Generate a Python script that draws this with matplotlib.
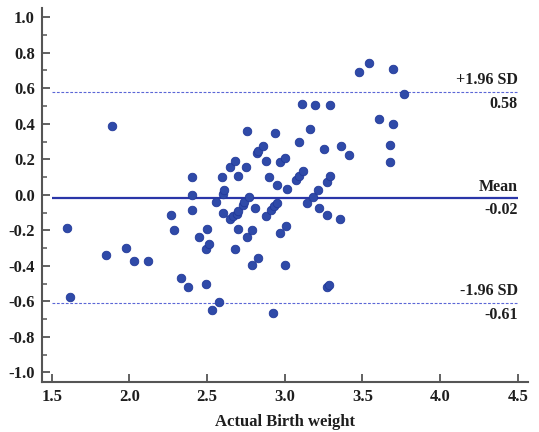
import matplotlib
matplotlib.use("Agg")
import matplotlib.pyplot as plt
from matplotlib.ticker import MultipleLocator

# ---- data ----
actual_bw = [1.60, 1.62, 1.85, 1.89, 1.98, 2.03, 2.12, 2.27, 2.29, 2.33,
             2.38, 2.40, 2.40, 2.40, 2.45, 2.49, 2.51, 2.50, 2.49, 2.535,
             2.58, 2.56, 2.595, 2.60, 2.61, 2.60, 2.65, 2.68, 2.70, 2.65,
             2.67, 2.69, 2.70, 2.73, 2.74, 2.77, 2.70, 2.68, 2.76, 2.79,
             2.81, 2.83, 2.79, 2.75, 2.76, 2.82, 2.83, 2.86, 2.88, 2.90,
             2.94, 2.88, 2.91, 2.93, 2.95, 2.95, 2.97, 3.00, 3.015, 2.97,
             3.01, 3.00, 2.925, 3.075, 3.09, 3.12, 3.09, 3.11, 3.16, 3.145,
             3.18, 3.215, 3.22, 3.195, 3.255, 3.27, 3.29, 3.29, 3.275, 3.355,
             3.36, 3.415, 3.275, 3.285, 3.48, 3.54, 3.61, 3.675, 3.675, 3.695,
             3.70, 3.77]
difference = [-0.186, -0.574, -0.34, 0.39, -0.30, -0.37, -0.37, -0.115, -0.20, -0.47,
              -0.52, 0.10, 0.00, -0.086, -0.24, -0.305, -0.276, -0.19, -0.505, -0.647,
              -0.606, -0.04, 0.103, 0.004, 0.028, -0.10, 0.159, 0.193, 0.105, -0.137,
              -0.118, -0.107, -0.094, -0.06, -0.043, -0.013, -0.19, -0.305, -0.235, -0.20,
              -0.075, -0.357, -0.394, 0.159, 0.362, 0.235, 0.248, 0.272, 0.193, 0.103,
              0.347, -0.118, -0.088, -0.062, -0.047, 0.055, 0.182, 0.206, 0.032, -0.216,
              -0.174, -0.394, -0.664, 0.084, 0.107, 0.135, 0.30, 0.512, 0.373, -0.047,
              -0.013, 0.026, -0.072, 0.503, 0.26, 0.071, 0.105, 0.503, -0.113, -0.135,
              0.272, 0.222, -0.518, -0.508, 0.692, 0.745, 0.425, 0.283, 0.182, 0.40,
              0.709, 0.567]

mean_diff = -0.02
upper_loa = 0.58
lower_loa = -0.61
line_labels = ["+1.96 SD", "Mean", "-1.96 SD"]
value_labels = ["0.58", "-0.02", "-0.61"]

x_ticks = [1.5, 2.0, 2.5, 3.0, 3.5, 4.0, 4.5]
y_ticks = [-1.0, -0.8, -0.6, -0.4, -0.2, 0.0, 0.2, 0.4, 0.6, 0.8, 1.0]
x_label = "Actual Birth weight"

# ---- figure ----
font = "Liberation Serif"
txt_color = "#1e1e1e"
fig = plt.figure(figsize=(5.39, 4.32), dpi=100)
ax = fig.add_axes([0.0774, 0.1146, 0.9017, 0.8669])

ax.set_xlim(1.4356, 4.5644)
ax.set_ylim(-1.057, 1.052)

line_x0, line_x1 = 1.5, 4.5
ax.hlines(mean_diff, line_x0, line_x1, color="#2a36a8", lw=1.6, zorder=2)
ax.hlines([upper_loa, lower_loa], line_x0, line_x1, color="#5b66d6",
          lw=0.8, linestyles=(0, (2.5, 1.5)), zorder=2)

ax.scatter(actual_bw, difference, s=38, color="#2f4aa8", edgecolors="#22399a",
           linewidths=0.6, zorder=3)

# annotations
for yv, top, bottom in zip([upper_loa, mean_diff, lower_loa], line_labels, value_labels):
    ax.annotate(top, xy=(line_x1, yv), xytext=(0, 5.6), textcoords="offset points",
                ha="right", va="baseline", fontsize=11.5, fontweight="bold",
                family=font, color=txt_color)
    ax.annotate(bottom, xy=(line_x1, yv), xytext=(0, -11.4), textcoords="offset points",
                ha="right", va="baseline", fontsize=11.5, fontweight="bold",
                family=font, color=txt_color)

# axes styling
for side in ["top", "right"]:
    ax.spines[side].set_visible(False)
for side in ["left", "bottom"]:
    ax.spines[side].set_color("#555555")
    ax.spines[side].set_linewidth(1.5)

ax.set_xticks(x_ticks)
ax.set_yticks(y_ticks)
ax.set_xticklabels([f"{v:.1f}" for v in x_ticks])
ax.set_yticklabels([f"{v:.1f}" for v in y_ticks])
ax.yaxis.set_minor_locator(MultipleLocator(0.1))
ax.tick_params(axis="both", which="major", direction="in", length=6, width=1.3,
               color="#555555", labelsize=12, labelcolor=txt_color, pad=5)
ax.tick_params(axis="y", which="minor", direction="in", length=3.3, width=1.1,
               color="#555555")
for lab in ax.get_xticklabels() + ax.get_yticklabels():
    lab.set_fontfamily(font)
    lab.set_fontweight("bold")

ax.set_xlabel(x_label, fontsize=12, fontweight="bold", family=font,
              color=txt_color, labelpad=6)

fig.savefig("out.png", dpi=100)
